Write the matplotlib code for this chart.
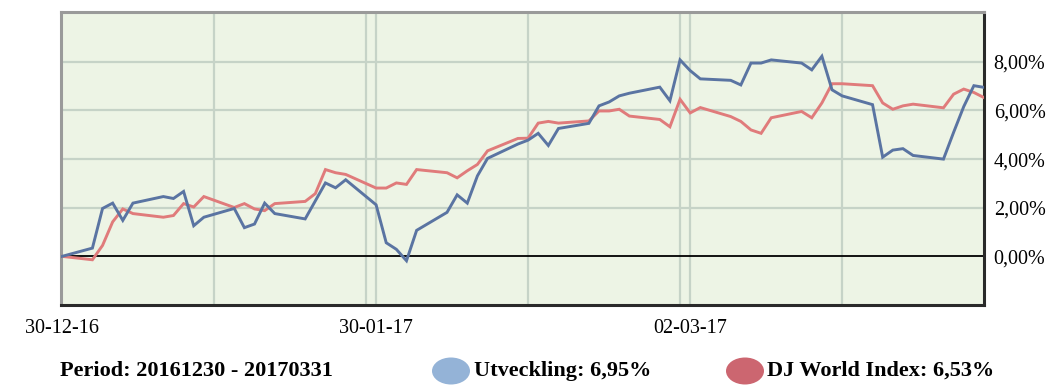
import matplotlib
matplotlib.use("Agg")
import matplotlib.pyplot as plt
from matplotlib.patches import Ellipse

# Day offsets from 30-12-2016
days = [0, 3, 4, 5, 6, 7, 10, 11, 12, 13, 14, 17, 18, 19, 20, 21, 24, 25, 26, 27, 28,
        31, 32, 33, 34, 35, 38, 39, 40, 41, 42, 45, 46, 47, 48, 49, 52, 53, 54, 55, 56,
        59, 60, 61, 62, 63, 66, 67, 68, 69, 70, 73, 74, 75, 76, 77, 80, 81, 82, 83, 84,
        87, 88, 89, 90, 91]

utveckling = [0.00, 0.34, 1.97, 2.19, 1.48, 2.19, 2.46, 2.38, 2.67, 1.26, 1.61, 1.97, 1.18,
              1.33, 2.19, 1.76, 1.54, 2.28, 3.02, 2.82, 3.15, 2.12, 0.56, 0.29, -0.18, 1.07,
              1.81, 2.53, 2.19, 3.31, 4.03, 4.62, 4.78, 5.06, 4.56, 5.26, 5.47, 6.19, 6.35,
              6.60, 6.71, 6.96, 6.40, 8.08, 7.64, 7.30, 7.24, 7.05, 7.95, 7.95, 8.08, 7.95,
              7.67, 8.23, 6.85, 6.60, 6.24, 4.08, 4.37, 4.43, 4.15, 4.00, 5.10, 6.16, 7.02,
              6.95]

dj_world = [0.00, -0.14, 0.45, 1.42, 1.95, 1.76, 1.61, 1.68, 2.17, 2.03, 2.46, 2.01, 2.17,
            1.95, 1.88, 2.17, 2.26, 2.58, 3.57, 3.44, 3.37, 2.81, 2.81, 3.02, 2.96, 3.57,
            3.44, 3.23, 3.52, 3.78, 4.34, 4.85, 4.86, 5.48, 5.55, 5.48, 5.57, 5.98, 5.98,
            6.05, 5.77, 5.63, 5.33, 6.46, 5.90, 6.12, 5.75, 5.55, 5.20, 5.06, 5.70, 5.96,
            5.70, 6.31, 7.10, 7.10, 7.02, 6.31, 6.05, 6.19, 6.26, 6.11, 6.67, 6.88, 6.74,
            6.53]

xtick_days = [0, 31, 62]
xtick_labels = ["30-12-16", "30-01-17", "02-03-17"]
vgrid_days = [15, 30, 31, 46, 61, 62, 77]
ytick_vals = [0, 2, 4, 6, 8]
ytick_labels = ["0,00%", "2,00%", "4,00%", "6,00%", "8,00%"]

period_text = "Period: 20161230 - 20170331"
legend_labels = ["Utveckling: 6,95%", "DJ World Index: 6,53%"]

plt.rcParams['font.family'] = ['Liberation Serif', 'DejaVu Serif']

W, H = 1063, 392
fig = plt.figure(figsize=(W / 100, H / 100), dpi=100)
ax = fig.add_axes([61 / W, (H - 305) / H, (984 - 61) / W, (305 - 12) / H])
ax.set_facecolor("#edf4e5")

grid_c = "#c6d3c7"
for d in vgrid_days:
    ax.axvline(d, color=grid_c, lw=1.6, zorder=1)
for v in [2, 4, 6, 8]:
    ax.axhline(v, color=grid_c, lw=1.6, zorder=1)
ax.axhline(0, color="black", lw=1.3, zorder=2)

ax.plot(days, utveckling, color="#5a74a2", lw=2.1, zorder=4, solid_joinstyle="miter")
ax.plot(days, dj_world, color="#e07b7b", lw=2.1, zorder=3, solid_joinstyle="miter")

ax.set_xlim(-0.1, 91)
ax.set_ylim(-2.0, 10.05)

ax.yaxis.tick_right()
ax.set_yticks(ytick_vals)
ax.set_yticklabels(ytick_labels, fontsize=14.5)
ax.set_xticks(xtick_days)
ax.set_xticklabels(xtick_labels, fontsize=14.5)
ax.tick_params(axis="y", length=0, pad=7)
ax.tick_params(axis="x", length=0, pad=10)
for lbl in ax.get_xticklabels():
    lbl.set_x(lbl.get_position()[0])

for s in ["left", "top"]:
    ax.spines[s].set_color("#9a9a9a")
    ax.spines[s].set_linewidth(2.2)
for s in ["right", "bottom"]:
    ax.spines[s].set_color("#2a2a2a")
    ax.spines[s].set_linewidth(2.2)

# Legend row
ty = 1 - 371 / H
fig.text(60 / W, ty, period_text, fontsize=16, fontweight="bold", va="center", ha="left")
fig.patches.append(Ellipse((451 / W, ty), 38 / W, 27 / H, transform=fig.transFigure,
                           facecolor="#94b3d7", edgecolor="none"))
fig.text(474 / W, ty, legend_labels[0], fontsize=16, fontweight="bold", va="center", ha="left")
fig.patches.append(Ellipse((745 / W, ty), 38 / W, 27 / H, transform=fig.transFigure,
                           facecolor="#cc6670", edgecolor="none"))
fig.text(767 / W, ty, legend_labels[1], fontsize=16, fontweight="bold", va="center", ha="left")

fig.savefig("out.png", dpi=100)
